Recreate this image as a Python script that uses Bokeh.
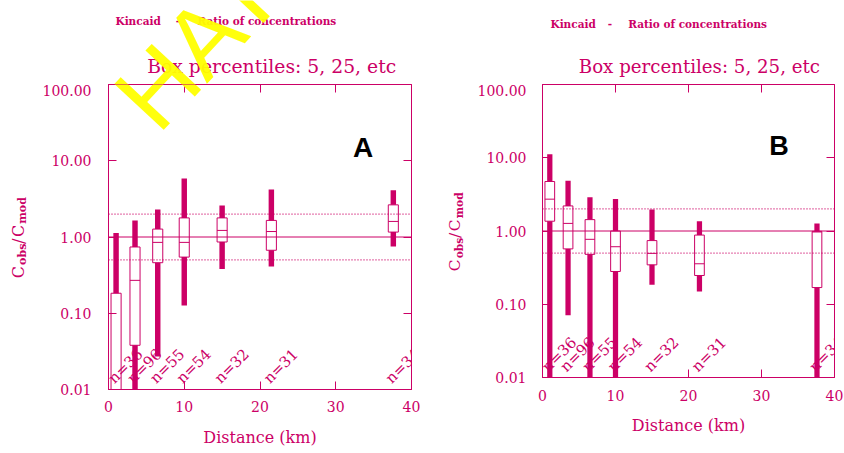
import math
from bokeh.plotting import figure
from bokeh.layouts import row, column
from bokeh.models import (FixedTicker, CustomJSTickFormatter, LinearAxis, LogAxis,
                          Span, Label, ColumnDataSource, Range1d)
from bokeh.core.properties import value
from bokeh.embed import file_html
from bokeh.resources import INLINE

MAG = "#CC0066"
SERIF = "DejaVu Serif"

# ---------------- data ----------------
distance_km = [1.0, 3.5, 6.5, 10.0, 15.0, 21.5, 37.6]
n_labels = ["n=36", "n=96", "n=55", "n=54", "n=32", "n=31", "n=34"]

# Panel A percentiles (5, 25, 50, 75, 95); values below 0.01 fall off the axis
a_p5 = [0.005, 0.005, 0.027, 0.126, 0.38, 0.41, 0.75]
a_p25 = [0.005, 0.038, 0.46, 0.545, 0.86, 0.67, 1.16]
a_p50 = [0.005, 0.27, 0.85, 0.85, 1.22, 1.18, 1.60]
a_p75 = [0.183, 0.74, 1.27, 1.78, 1.78, 1.65, 2.64]
a_p95 = [1.13, 1.65, 2.29, 5.85, 2.58, 4.19, 4.10]

# Panel B percentiles
b_p5 = [0.005, 0.071, 0.005, 0.005, 0.184, 0.149, 0.005]
b_p25 = [1.36, 0.57, 0.48, 0.28, 0.345, 0.247, 0.169]
b_p50 = [2.72, 1.27, 0.77, 0.61, 0.495, 0.357, 0.97]
b_p75 = [4.74, 2.20, 1.43, 1.00, 0.74, 0.88, 0.99]
b_p95 = [11.2, 4.84, 2.90, 2.74, 1.96, 1.36, 1.27]

x_ticks = [0, 10, 20, 30, 40]
y_ticks = [0.01, 0.1, 1, 10, 100]
ref_solid = 1.0
ref_dotted = [0.5, 2.0]

header_left = "Kincaid"
header_dash = "-"
header_right = "Ratio of concentrations"
title_text = "Box percentiles: 5, 25, etc"
xlabel_text = "Distance (km)"
watermark_text = "HAT"

BOX_W = 1.33
WHISK_W = 0.72
NLABEL_Y = 0.013

HEAD_H = 84          # height of the header strip (page px)
BOTTOM_B = 64        # common bottom border of the panels
FRAME_TOP = 85       # page y of the frames' top edge


def lab(fig, text, x, y, size, color=MAG, font=SERIF, style="normal", align="left",
        angle=0.0, units="data", alpha=1.0):
    fig.add_layout(Label(x=x, y=y, x_units=units, y_units=units, text=text,
                         text_font=font, text_font_size=f"{size}px",
                         text_font_style=style, text_color=color, text_alpha=alpha,
                         text_align=align, text_baseline="alphabetic", angle=angle))


def blank_fig(w, h, xr, yr, bottom=0):
    f = figure(width=w, height=h, x_range=Range1d(*xr), y_range=Range1d(*yr),
               x_axis_type=None, y_axis_type=None, output_backend="svg",
               toolbar_location=None, min_border=0, min_border_left=0,
               min_border_right=0, min_border_top=0, min_border_bottom=bottom)
    f.outline_line_color = None
    f.grid.visible = False
    f.background_fill_color = "white"
    f.border_fill_color = "white"
    return f


# ---------- header strip: small header, panel titles, watermark ----------
head = blank_fig(844, HEAD_H, (0, 844), (HEAD_H, 0))
for (kx, dx, rx, hy, tx, ts) in [(115, 177.5, 197, 20.5, 146.7, 18.8),
                                 (550, 609.5, 627.7, 23.3, 578.3, 18.2)]:
    lab(head, header_left, kx, hy, 10.5, style="bold")
    lab(head, header_dash, dx, hy, 10.5, style="bold", align="center")
    lab(head, header_right, rx, hy, 10.5, style="bold")
    lab(head, title_text, tx, 66, ts)


# ---------- y-axis label strips (C_obs / C_mod, vertical) ----------
def ylabel_fig(x0, w, h, base_x, start_y, big):
    frame_bottom = HEAD_H + h - BOTTOM_B
    f = blank_fig(w, h, (x0, x0 + w), (frame_bottom, FRAME_TOP), bottom=BOTTOM_B)
    small = big * 0.69
    pieces = [("C", big, 0, 0.731), ("obs", small, 4, 1.755), ("/", big, 0, 0.337),
              ("C", big, 0, 0.731), ("mod", small, 4, 2.19)]
    y = start_y
    for txt, size, shift, adv in pieces:
        lab(f, txt, base_x + shift, y, round(size, 1), angle=math.pi / 2,
            style="bold" if size == small else "normal")
        y -= adv * size + 1.5
    return f


ylab_a = ylabel_fig(0, 36, 369, 17.5, 278, 16)
ylab_b = ylabel_fig(430, 42, 357, 454.5, 271, 15.5)


def make_panel(p5, p25, p50, p75, p95, letter, L):
    p = figure(width=L["w"], height=L["h"], x_range=(0, 40),
               y_range=(0.01, 100), y_axis_type="log", output_backend="svg",
               toolbar_location=None, min_border_left=L["bl"], min_border_right=L["br"],
               min_border_top=0, min_border_bottom=BOTTOM_B)
    p.background_fill_color = "white"
    p.border_fill_color = "white"
    p.outline_line_color = MAG
    p.outline_line_width = 1
    p.grid.visible = False

    fs = L["fs"]
    p.xaxis.ticker = FixedTicker(ticks=x_ticks, minor_ticks=[])
    p.yaxis.ticker = FixedTicker(ticks=y_ticks, minor_ticks=[])
    p.yaxis.formatter = CustomJSTickFormatter(code="return tick.toFixed(2);")
    p.xaxis.axis_label = xlabel_text
    p.xaxis.axis_label_text_font = SERIF
    p.xaxis.axis_label_text_font_size = f"{fs + 2}px"
    p.xaxis.axis_label_text_font_style = "normal"
    p.xaxis.axis_label_text_color = MAG
    p.xaxis.axis_label_standoff = L["als"]
    p.xaxis.major_label_standoff = L["xs"]
    p.yaxis.major_label_standoff = L["ys"]

    top = LinearAxis(ticker=FixedTicker(ticks=x_ticks, minor_ticks=[]))
    right = LogAxis(ticker=FixedTicker(ticks=y_ticks, minor_ticks=[]))
    p.add_layout(top, "above")
    p.add_layout(right, "right")
    for ax in (top, right):
        ax.major_label_text_font_size = "1px"
        ax.major_label_text_alpha = 0
        ax.major_label_standoff = 0
        ax.axis_line_color = None

    for ax in p.axis:
        ax.major_tick_in = 8
        ax.major_tick_out = 0
        ax.minor_tick_in = 0
        ax.minor_tick_out = 0
        ax.major_tick_line_color = MAG
        ax.major_label_text_font = SERIF
        ax.major_label_text_color = MAG
        if ax not in (top, right):
            ax.major_label_text_font_size = f"{fs}px"
            ax.axis_line_color = MAG

    src = ColumnDataSource(dict(x=distance_km, p5=p5, p25=p25, p50=p50, p75=p75,
                                p95=p95, lab=n_labels, ly=[NLABEL_Y] * len(distance_km),
                                x0=[d - BOX_W / 2 for d in distance_km],
                                x1=[d + BOX_W / 2 for d in distance_km]))
    p.vbar(x="x", width=WHISK_W, bottom="p5", top="p95", source=src,
           fill_color=MAG, line_color=None)
    p.vbar(x="x", width=BOX_W, bottom="p25", top="p75", source=src,
           fill_color="white", line_color=MAG, line_width=1)
    p.segment(x0="x0", x1="x1", y0="p50", y1="p50", source=src,
              line_color=MAG, line_width=1)
    p.text(x="x", y="ly", text="lab", source=src, angle=math.pi / 4, x_offset=-5,
           text_font=value(SERIF), text_font_size=f"{fs + 1}px", text_color=MAG,
           text_align="left", text_baseline="alphabetic")

    p.add_layout(Span(location=ref_solid, dimension="width", line_color=MAG, line_width=1))
    for v in ref_dotted:
        p.add_layout(Span(location=v, dimension="width", line_color=MAG,
                          line_width=1.2, line_dash="1 2"))

    lab(p, letter, L["lx"], L["ly"], L["lfs"], color="black", font="Liberation Sans",
        style="bold", align="center", units="screen")
    return p


LA = dict(w=394, h=369, bl=72, br=19, als=13, xs=11, ys=17, fs=14,
          lx=254.5, ly=242, lfs=28)
LB = dict(w=372, h=357, bl=70, br=10, als=12, xs=12, ys=16, fs=14,
          lx=236.5, ly=232, lfs=27)

pa = make_panel(a_p5, a_p25, a_p50, a_p75, a_p95, "A", LA)
pb = make_panel(b_p5, b_p25, b_p50, b_p75, b_p95, "B", LB)

# yellow watermark: drawn in the header strip and continued inside panel A
WM_SIZE, WM_ANGLE = 98, math.radians(47)
WM_X, WM_Y = 133, 112            # page position of the watermark's anchor
lab(head, watermark_text, WM_X, WM_Y, WM_SIZE, color="#FFFF00",
    font="Liberation Sans", angle=WM_ANGLE, alpha=0.95)
lab(pa, watermark_text, WM_X - 108, 389 - WM_Y, WM_SIZE, color="#FFFF00",
    font="Liberation Sans", angle=WM_ANGLE, alpha=0.95, units="screen")

layout = column(head, row(ylab_a, pa, ylab_b, pb))
open("out.html", "w").write(file_html(layout, INLINE))
